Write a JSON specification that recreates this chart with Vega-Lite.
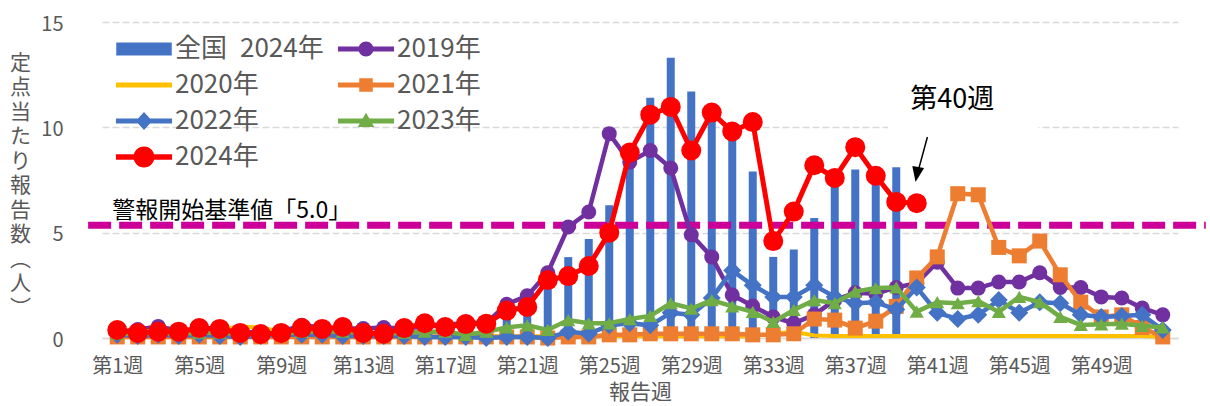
{
  "$schema": "https://vega.github.io/schema/vega-lite/v6.json",
  "width": 1076,
  "height": 316,
  "autosize": {"type": "none"},
  "padding": {"left": 102, "top": 22, "right": 32, "bottom": 68},
  "background": "white",
  "config": {"font": "Noto Sans CJK JP", "view": {"stroke": null}},
  "datasets": {
    "weekly": [
      {"week": 1, "全国2024": 0.25, "2019年": 0.3, "2020年": 0.3, "2021年": 0.05, "2022年": 0.15, "2023年": 0.2, "2024年": 0.38},
      {"week": 2, "全国2024": 0.2, "2019年": 0.4, "2020年": 0.3, "2021年": 0.05, "2022年": 0.1, "2023年": 0.2, "2024年": 0.24},
      {"week": 3, "全国2024": 0.25, "2019年": 0.55, "2020年": 0.35, "2021年": 0.05, "2022年": 0.15, "2023年": 0.25, "2024年": 0.3},
      {"week": 4, "全国2024": 0.25, "2019年": 0.35, "2020年": 0.3, "2021年": 0.05, "2022年": 0.1, "2023年": 0.2, "2024年": 0.3},
      {"week": 5, "全国2024": 0.3, "2019年": 0.3, "2020年": 0.35, "2021年": 0.05, "2022年": 0.15, "2023年": 0.25, "2024年": 0.47},
      {"week": 6, "全国2024": 0.3, "2019年": 0.35, "2020年": 0.4, "2021年": 0.05, "2022年": 0.1, "2023年": 0.25, "2024年": 0.43},
      {"week": 7, "全国2024": 0.2, "2019年": 0.3, "2020年": 0.55, "2021年": 0.05, "2022年": 0.05, "2023年": 0.2, "2024年": 0.24},
      {"week": 8, "全国2024": 0.15, "2019年": 0.25, "2020年": 0.5, "2021年": 0.05, "2022年": 0.1, "2023年": 0.2, "2024年": 0.19},
      {"week": 9, "全国2024": 0.2, "2019年": 0.3, "2020年": 0.3, "2021年": 0.05, "2022年": 0.15, "2023年": 0.2, "2024年": 0.24},
      {"week": 10, "全国2024": 0.3, "2019年": 0.6, "2020年": 0.15, "2021年": 0.05, "2022年": 0.15, "2023年": 0.3, "2024年": 0.47},
      {"week": 11, "全国2024": 0.3, "2019年": 0.5, "2020年": 0.1, "2021年": 0.05, "2022年": 0.15, "2023年": 0.3, "2024年": 0.43},
      {"week": 12, "全国2024": 0.35, "2019年": 0.45, "2020年": 0.1, "2021年": 0.05, "2022年": 0.1, "2023年": 0.3, "2024年": 0.52},
      {"week": 13, "全国2024": 0.2, "2019年": 0.45, "2020年": 0.08, "2021年": 0.05, "2022年": 0.1, "2023年": 0.25, "2024年": 0.24},
      {"week": 14, "全国2024": 0.2, "2019年": 0.5, "2020年": 0.08, "2021年": 0.05, "2022年": 0.1, "2023年": 0.2, "2024年": 0.2},
      {"week": 15, "全国2024": 0.3, "2019年": 0.45, "2020年": 0.08, "2021年": 0.05, "2022年": 0.1, "2023年": 0.25, "2024年": 0.47},
      {"week": 16, "全国2024": 0.45, "2019年": 0.55, "2020年": 0.08, "2021年": 0.05, "2022年": 0.05, "2023年": 0.3, "2024年": 0.7},
      {"week": 17, "全国2024": 0.35, "2019年": 0.6, "2020年": 0.08, "2021年": 0.05, "2022年": 0.05, "2023年": 0.3, "2024年": 0.52},
      {"week": 18, "全国2024": 0.45, "2019年": 0.75, "2020年": 0.08, "2021年": 0.05, "2022年": 0.05, "2023年": 0.15, "2024年": 0.66},
      {"week": 19, "全国2024": 0.55, "2019年": 0.7, "2020年": 0.08, "2021年": 0.05, "2022年": 0.0, "2023年": 0.3, "2024年": 0.68},
      {"week": 20, "全国2024": 1.0, "2019年": 1.6, "2020年": 0.08, "2021年": 0.05, "2022年": 0.05, "2023年": 0.5, "2024年": 1.3},
      {"week": 21, "全国2024": 1.4, "2019年": 2.0, "2020年": 0.08, "2021年": 0.05, "2022年": 0.05, "2023年": 0.6, "2024年": 1.47},
      {"week": 22, "全国2024": 2.6, "2019年": 3.1, "2020年": 0.08, "2021年": 0.0, "2022年": 0.0, "2023年": 0.38, "2024年": 2.75},
      {"week": 23, "全国2024": 3.84, "2019年": 5.27, "2020年": 0.08, "2021年": 0.05, "2022年": 0.3, "2023年": 0.85, "2024年": 2.94},
      {"week": 24, "全国2024": 4.7, "2019年": 5.98, "2020年": 0.08, "2021年": 0.05, "2022年": 0.2, "2023年": 0.7, "2024年": 3.42},
      {"week": 25, "全国2024": 6.3, "2019年": 9.7, "2020年": 0.08, "2021年": 0.15, "2022年": 0.6, "2023年": 0.7, "2024年": 5.0},
      {"week": 26, "全国2024": 8.6, "2019年": 8.35, "2020年": 0.08, "2021年": 0.15, "2022年": 0.7, "2023年": 0.9, "2024年": 8.8},
      {"week": 27, "全国2024": 11.4, "2019年": 8.9, "2020年": 0.08, "2021年": 0.2, "2022年": 0.6, "2023年": 1.05, "2024年": 10.6},
      {"week": 28, "全国2024": 13.3, "2019年": 8.07, "2020年": 0.08, "2021年": 0.2, "2022年": 1.2, "2023年": 1.65, "2024年": 10.97},
      {"week": 29, "全国2024": 11.7, "2019年": 4.9, "2020年": 0.08, "2021年": 0.2, "2022年": 1.1, "2023年": 1.4, "2024年": 8.9},
      {"week": 30, "全国2024": 10.7, "2019年": 3.85, "2020年": 0.08, "2021年": 0.2, "2022年": 1.9, "2023年": 1.8, "2024年": 10.7},
      {"week": 31, "全国2024": 9.8, "2019年": 2.04, "2020年": 0.08, "2021年": 0.2, "2022年": 3.2, "2023年": 1.5, "2024年": 9.8},
      {"week": 32, "全国2024": 7.9, "2019年": 1.52, "2020年": 0.08, "2021年": 0.15, "2022年": 2.5, "2023年": 1.24, "2024年": 10.25},
      {"week": 33, "全国2024": 3.85, "2019年": 1.0, "2020年": 0.2, "2021年": 0.15, "2022年": 1.95, "2023年": 0.76, "2024年": 4.6},
      {"week": 34, "全国2024": 4.2, "2019年": 0.7, "2020年": 0.3, "2021年": 0.2, "2022年": 1.95, "2023年": 1.33, "2024年": 6.0},
      {"week": 35, "全国2024": 5.7, "2019年": 1.1, "2020年": 0.12, "2021年": 0.9, "2022年": 2.5, "2023年": 1.8, "2024年": 8.2},
      {"week": 36, "全国2024": 7.6, "2019年": 1.8, "2020年": 0.1, "2021年": 0.85, "2022年": 1.95, "2023年": 1.65, "2024年": 7.6},
      {"week": 37, "全国2024": 8.0, "2019年": 2.15, "2020年": 0.1, "2021年": 0.47, "2022年": 1.65, "2023年": 2.2, "2024年": 9.06},
      {"week": 38, "全国2024": 7.6, "2019年": 2.1, "2020年": 0.1, "2021年": 0.8, "2022年": 1.7, "2023年": 2.37, "2024年": 7.7},
      {"week": 39, "全国2024": 8.1, "2019年": 2.4, "2020年": 0.1, "2021年": 1.5, "2022年": 1.35, "2023年": 2.4, "2024年": 6.46},
      {"week": 40, "2019年": 2.6, "2020年": 0.1, "2021年": 2.85, "2022年": 2.4, "2023年": 1.25, "2024年": 6.4},
      {"week": 41, "2019年": 3.6, "2020年": 0.1, "2021年": 3.85, "2022年": 1.2, "2023年": 1.7},
      {"week": 42, "2019年": 2.37, "2020年": 0.1, "2021年": 6.85, "2022年": 0.9, "2023年": 1.65},
      {"week": 43, "2019年": 2.37, "2020年": 0.1, "2021年": 6.8, "2022年": 1.1, "2023年": 1.75},
      {"week": 44, "2019年": 2.66, "2020年": 0.1, "2021年": 4.3, "2022年": 1.8, "2023年": 1.24},
      {"week": 45, "2019年": 2.66, "2020年": 0.1, "2021年": 3.9, "2022年": 1.2, "2023年": 1.95},
      {"week": 46, "2019年": 3.1, "2020年": 0.1, "2021年": 4.6, "2022年": 1.7, "2023年": 1.7},
      {"week": 47, "2019年": 2.4, "2020年": 0.1, "2021年": 3.0, "2022年": 1.65, "2023年": 1.0},
      {"week": 48, "2019年": 2.4, "2020年": 0.1, "2021年": 1.7, "2022年": 1.1, "2023年": 0.62},
      {"week": 49, "2019年": 1.95, "2020年": 0.1, "2021年": 1.0, "2022年": 1.0, "2023年": 0.65},
      {"week": 50, "2019年": 1.9, "2020年": 0.1, "2021年": 1.1, "2022年": 1.05, "2023年": 0.68},
      {"week": 51, "2019年": 1.42, "2020年": 0.1, "2021年": 0.5, "2022年": 1.1, "2023年": 0.58},
      {"week": 52, "2019年": 1.1, "2020年": 0.05, "2021年": 0.05, "2022年": 0.38, "2023年": 0.5}
    ]
  },
  "data": {"name": "weekly"},
  "transform": [
    {"fold": ["全国2024", "2019年", "2020年", "2021年", "2022年", "2023年", "2024年"], "as": ["series", "value"]},
    {"filter": "isValid(datum.value)"}
  ],
  "encoding": {
    "x": {
      "field": "week",
      "type": "quantitative",
      "scale": {"domain": [0.5, 52.5], "nice": false, "zero": false},
      "axis": {
        "title": "報告週",
        "titleFontSize": 21,
        "titleFontWeight": "normal",
        "titleColor": "#595959",
        "titlePadding": 5,
        "values": [1, 5, 9, 13, 17, 21, 25, 29, 33, 37, 41, 45, 49],
        "labelExpr": "'第' + datum.value + '週'",
        "labelFontSize": 20,
        "labelColor": "#595959",
        "labelPadding": 18,
        "labelOverlap": false,
        "labelFlush": false,
        "ticks": false,
        "tickSize": 0,
        "grid": false,
        "domainColor": "#d9d9d9",
        "domainWidth": 1.5
      }
    },
    "y": {
      "field": "value",
      "type": "quantitative",
      "scale": {"domain": [0, 15], "nice": false},
      "axis": {
        "title": ["定", "点", "当", "た", "り", "報", "告", "数", "︵", "人", "︶"],
        "titleAngle": 0,
        "titleX": -82,
        "titleY": 30,
        "titleAlign": "center",
        "titleBaseline": "top",
        "titleLineHeight": 24.5,
        "titleFontSize": 21,
        "titleFontWeight": "normal",
        "titleColor": "#595959",
        "values": [0, 5, 10, 15],
        "labelFontSize": 20,
        "labelColor": "#595959",
        "labelPadding": 39,
        "labelOffset": 2,
        "ticks": false,
        "domain": false,
        "grid": true,
        "gridColor": "#d9d9d9",
        "gridDash": [7, 3],
        "gridWidth": 1.5
      }
    }
  },
  "layer": [
    {
      "transform": [{"filter": "datum.week < 0"}],
      "mark": {"type": "point", "filled": true, "opacity": 1, "size": 900},
      "encoding": {
        "color": {
          "field": "series",
          "type": "nominal",
          "scale": {
            "domain": ["全国2024", "2020年", "2022年", "2024年", "2019年", "2021年", "2023年"],
            "range": ["#4472C4", "#FFC000", "#4472C4", "#FF0000", "#7030A0", "#ED7D31", "#70AD47"]
          },
          "legend": {
            "title": null,
            "orient": "none",
            "legendX": 27,
            "legendY": 12,
            "columns": 2,
            "columnPadding": 13,
            "rowPadding": 8,
            "padding": 0,
            "symbolSize": 900,
            "symbolOpacity": 1,
            "symbolStrokeWidth": 0,
            "labelOffset": 16,
            "labelFontSize": 26,
            "labelColor": "#595959",
            "labelFont": "Noto Sans CJK JP",
            "labelLimit": 400,
            "labelExpr": "datum.label === '全国2024' ? '全国\u20022024年' : datum.label"
          }
        },
        "shape": {
          "field": "series",
          "type": "nominal",
          "scale": {
            "domain": ["全国2024", "2020年", "2022年", "2024年", "2019年", "2021年", "2023年"],
            "range": [
              "M-1.85,-0.43H1.85V0.43H-1.85Z",
              "M-1.87,-0.16H1.87V0.16H-1.87Z",
              "M-1.87,-0.16H1.87V0.16H-1.87Z M0,-0.6L0.55,0L0,0.6L-0.55,0Z",
              "M-1.87,-0.18H1.87V0.18H-1.87Z M0.7,0A0.7,0.7 0 1,1 -0.7,0A0.7,0.7 0 1,1 0.7,0Z",
              "M-1.87,-0.16H1.87V0.16H-1.87Z M0.5,0A0.5,0.5 0 1,1 -0.5,0A0.5,0.5 0 1,1 0.5,0Z",
              "M-1.87,-0.16H1.87V0.16H-1.87Z M-0.45,-0.45H0.45V0.45H-0.45Z",
              "M-1.87,-0.16H1.87V0.16H-1.87Z M0,-0.55L0.55,0.4L-0.55,0.4Z"
            ]
          },
          "legend": {"title": null}
        }
      }
    },
    {
      "data": {"values": [{"week": 38.6, "week2": 45.93, "value": 9.7, "value2": 12.6}]},
      "mark": {"type": "rect", "fill": "white"},
      "encoding": {"x2": {"field": "week2"}, "y2": {"field": "value2"}}
    },
    {
      "transform": [{"filter": "datum.series === '全国2024'"}],
      "mark": {"type": "bar", "width": 8, "color": "#4472C4"}
    },
    {
      "data": {"values": [{"week": -0.42, "week2": 54.1, "value": 5.35}]},
      "mark": {"type": "rule", "color": "#CC0099", "strokeWidth": 7, "strokeDash": [23, 8]},
      "encoding": {"x2": {"field": "week2"}}
    },
    {
      "data": {"values": [{"week": 1, "value": 5.35, "label": "警報開始基準値「5.0」"}]},
      "mark": {"type": "text", "align": "left", "baseline": "middle", "dx": -5, "dy": -14, "fontSize": 23, "color": "#000000"},
      "encoding": {"text": {"field": "label"}}
    },
    {
      "transform": [{"filter": "datum.series === '2019年'"}],
      "mark": {"type": "line", "strokeWidth": 4.5, "color": "#7030A0"}
    },
    {
      "transform": [{"filter": "datum.series === '2019年'"}],
      "mark": {"type": "point", "filled": true, "opacity": 1, "shape": "circle", "size": 225, "color": "#7030A0"}
    },
    {
      "transform": [{"filter": "datum.series === '2020年'"}],
      "mark": {"type": "line", "strokeWidth": 4, "color": "#FFC000"}
    },
    {
      "transform": [{"filter": "datum.series === '2021年'"}],
      "mark": {"type": "line", "strokeWidth": 4.5, "color": "#ED7D31"}
    },
    {
      "transform": [{"filter": "datum.series === '2021年'"}],
      "mark": {"type": "point", "filled": true, "opacity": 1, "shape": "square", "size": 225, "color": "#ED7D31"}
    },
    {
      "transform": [{"filter": "datum.series === '2022年'"}],
      "mark": {"type": "line", "strokeWidth": 4.5, "color": "#4472C4"}
    },
    {
      "transform": [{"filter": "datum.series === '2022年'"}],
      "mark": {"type": "point", "filled": true, "opacity": 1, "shape": "diamond", "size": 324, "color": "#4472C4"}
    },
    {
      "transform": [{"filter": "datum.series === '2023年'"}],
      "mark": {"type": "line", "strokeWidth": 4.5, "color": "#70AD47"}
    },
    {
      "transform": [{"filter": "datum.series === '2023年'"}],
      "mark": {"type": "point", "filled": true, "opacity": 1, "shape": "triangle-up", "size": 200, "color": "#70AD47"}
    },
    {
      "transform": [{"filter": "datum.series === '2024年'"}],
      "mark": {"type": "line", "strokeWidth": 5, "color": "#FF0000"}
    },
    {
      "transform": [{"filter": "datum.series === '2024年'"}],
      "mark": {"type": "point", "filled": true, "opacity": 1, "shape": "circle", "size": 400, "color": "#FF0000"}
    },
    {
      "data": {"values": [{"week": 40.52, "value": 9.54, "week2": 40.08, "value2": 7.97}]},
      "mark": {"type": "rule", "color": "#000000", "strokeWidth": 1.5},
      "encoding": {"x2": {"field": "week2"}, "y2": {"field": "value2"}}
    },
    {
      "data": {"values": [{"week": 40.01, "value": 7.78}]},
      "mark": {"type": "point", "filled": true, "opacity": 1, "color": "#000000", "shape": "M0,1L0.75,-0.9L-0.75,-0.9Z", "size": 256, "angle": 10}
    },
    {
      "data": {"values": [{"week": 41.73, "value": 11.3, "label": "第40週"}]},
      "mark": {"type": "text", "align": "center", "baseline": "middle", "fontSize": 27, "color": "#000000"},
      "encoding": {"text": {"field": "label"}}
    }
  ]
}
